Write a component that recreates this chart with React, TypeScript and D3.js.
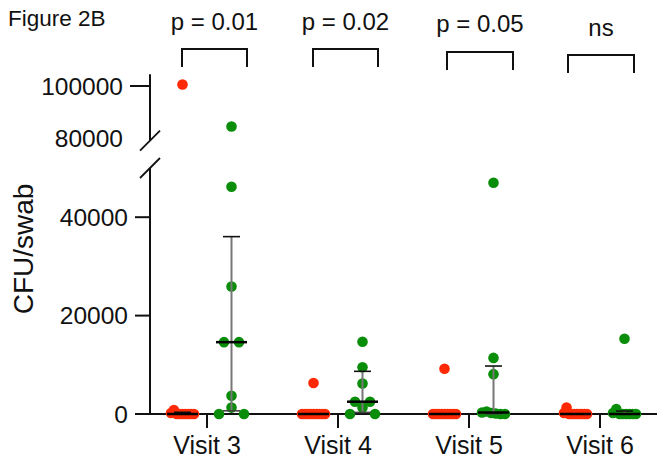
import React from "react";
import * as d3 from "d3";

// Groups along the x axis
const visits = ["Visit 3", "Visit 4", "Visit 5", "Visit 6"];

// CFU per swab, control group (red)
const redVisit3 = [100600, 800, 200, 0, 0, 0, 0, 0, 0, 0];
const redVisit4 = [6300, 0, 0, 0, 0, 0, 0, 0, 0, 0];
const redVisit5 = [9200, 0, 0, 0, 0, 0, 0, 0, 0, 0];
const redVisit6 = [1300, 200, 0, 0, 0, 0, 0, 0, 0, 0];

// CFU per swab, treated group (green)
const greenVisit3 = [84400, 46200, 25900, 14600, 14600, 3700, 1300, 0, 0];
const greenVisit4 = [14700, 9500, 6200, 2500, 2500, 1300, 0, 0];
const greenVisit5 = [47000, 11400, 8100, 500, 300, 200, 100, 0, 0];
const greenVisit6 = [15300, 1000, 200, 0, 0, 0, 0, 0, 0];

const redSeries = [redVisit3, redVisit4, redVisit5, redVisit6];
const greenSeries = [greenVisit3, greenVisit4, greenVisit5, greenVisit6];

// Comparison labels above each visit
const pLabels = ["p = 0.01", "p = 0.02", "p = 0.05", "ns"];

// Axis ticks for the two segments of the broken y axis
const lowerTicks = [0, 20000, 40000];
const upperTicks = [80000, 100000];

const RED = "#ff2a05";
const GREEN = "#0a8e0a";
const FONT = "'Liberation Sans', Arial, Helvetica, sans-serif";

const W = 657;
const H = 460;
const axisX = 150;
const baseY = 414;
const dotR = 5.3;

// Bracket geometry per comparison: left/right offsets from the visit tick, top y
const bracketLayout = [
  { dl: -25, dr: 40, top: 49, textY: 30 },
  { dl: -25, dr: 40, top: 49, textY: 30 },
  { dl: -22, dr: 44, top: 52, textY: 32 },
  { dl: -32, dr: 34, top: 55, textY: 36 },
];

const x = d3.scalePoint<string>().domain(visits).range([207, 600]);
const yLow = d3.scaleLinear().domain([0, 50000]).range([baseY, 168]);
const yHigh = d3.scaleLinear().domain([79000, 104500]).range([140.6, 74.3]);
const yOf = (v: number) => (v > 60000 ? yHigh(v) : yLow(v));

// Quartile using the (n+1)p rule
function quantile(sorted: number[], p: number) {
  const n = sorted.length;
  const pos = (n + 1) * p;
  if (pos <= 1) return sorted[0];
  if (pos >= n) return sorted[n - 1];
  const lo = Math.floor(pos);
  const f = pos - lo;
  return sorted[lo - 1] + f * (sorted[lo] - sorted[lo - 1]);
}

type Pt = { v: number; x: number; y: number };

// Row-based scatter: values in the same 10px band are spread symmetrically
function scatter(values: number[], cx: number): Pt[] {
  const pts = values.map((v) => ({ v, y: yOf(v), x: cx }));
  const rows = d3.group(pts, (p) => Math.floor((baseY - p.y) / 10));
  const out: Pt[] = [];
  rows.forEach((row) => {
    const k = row.length;
    const sorted = [...row].sort((a, b) => b.v - a.v);
    const span = k === 1 ? 0 : Math.min((k - 1) * 15, k > 3 ? 23 : 25);
    const step = k === 1 ? 0 : span / (k - 1);
    // wide rows fill from just left of centre; small rows from the centre out
    const anchor = k > 3 ? -9 : 0;
    const slots = d3
      .range(k)
      .map((i) => -span / 2 + i * step)
      .sort((a, b) => Math.abs(a - anchor) - Math.abs(b - anchor) || a - b);
    sorted.forEach((p, i) => out.push({ v: p.v, y: p.y, x: cx + slots[i] }));
  });
  return out;
}

function Group({ values, cx, color }: { values: number[]; cx: number; color: string }) {
  const pts = scatter(values, cx);
  const sorted = [...values].sort((a, b) => a - b);
  const med = d3.median(sorted) as number;
  const q1 = quantile(sorted, 0.25);
  const q3 = quantile(sorted, 0.75);
  return (
    <g>
      {pts.map((p, i) => (
        <circle key={i} cx={p.x} cy={p.y} r={dotR} fill={color} />
      ))}
      <line x1={cx} x2={cx} y1={yOf(q1)} y2={yOf(q3)} stroke="#777" strokeWidth={2} />
      <line x1={cx - 8.5} x2={cx + 8.5} y1={yOf(q3)} y2={yOf(q3)} stroke="#111" strokeWidth={1.6} />
      <line x1={cx - 8.5} x2={cx + 8.5} y1={yOf(q1)} y2={yOf(q1)} stroke="#444" strokeWidth={1.6} />
      <line x1={cx - 15.5} x2={cx + 15.5} y1={yOf(med)} y2={yOf(med)} stroke="#000" strokeWidth={2.5} />
    </g>
  );
}

export default function App() {
  const lowTop = yLow.range()[1];
  const highBottom = yHigh.range()[0];
  const highTop = yHigh.range()[1];
  return (
    <svg
      width={W}
      height={H}
      style={{ position: "absolute", left: 0, top: 0, background: "#fff" }}
      fontFamily={FONT}
    >
      <rect width={W} height={H} fill="#fff" />

      <text x={8} y={26} fontSize={22.5} fill="#111">
        Figure 2B
      </text>

      {/* significance brackets */}
      {visits.map((v, i) => {
        const c = x(v) as number;
        const b = bracketLayout[i];
        const x1 = c + b.dl;
        const x2 = c + b.dr;
        return (
          <g key={v}>
            <text x={(x1 + x2) / 2} y={b.textY} fontSize={24} textAnchor="middle" fill="#111">
              {pLabels[i]}
            </text>
            <path
              d={`M${x1},${b.top + 18}V${b.top}H${x2}V${b.top + 18}`}
              fill="none"
              stroke="#111"
              strokeWidth={2}
            />
          </g>
        );
      })}

      {/* y axis, lower segment */}
      <line x1={axisX} x2={axisX} y1={baseY} y2={lowTop} stroke="#111" strokeWidth={2} />
      {lowerTicks.map((t) => (
        <g key={t}>
          <line x1={axisX - 15} x2={axisX} y1={yLow(t)} y2={yLow(t)} stroke="#111" strokeWidth={2} />
          <text x={axisX - 22} y={yLow(t)} dy="0.36em" fontSize={24.5} textAnchor="end" fill="#111">
            {t}
          </text>
        </g>
      ))}

      {/* y axis, upper segment */}
      <line x1={axisX} x2={axisX} y1={highBottom} y2={highTop} stroke="#111" strokeWidth={2} />
      {upperTicks.map((t) => (
        <g key={t}>
          {t === 100000 && (
            <line x1={axisX - 20} x2={axisX} y1={yHigh(t)} y2={yHigh(t)} stroke="#111" strokeWidth={2} />
          )}
          <text x={axisX - 27} y={yHigh(t)} dy="0.36em" fontSize={24.5} textAnchor="end" fill="#111">
            {t}
          </text>
        </g>
      ))}

      {/* break marks */}
      {[highBottom, lowTop].map((yy, i) => (
        <line
          key={i}
          x1={axisX - 10}
          x2={axisX + 10}
          y1={yy + 10}
          y2={yy - 10}
          stroke="#111"
          strokeWidth={1.8}
        />
      ))}

      <text
        transform={`translate(33,249) rotate(-90)`}
        fontSize={28}
        textAnchor="middle"
        fill="#111"
      >
        CFU/swab
      </text>

      {/* x axis */}
      <line x1={axisX - 1} x2={W} y1={baseY} y2={baseY} stroke="#111" strokeWidth={2} />
      {visits.map((v) => (
        <g key={v}>
          <line x1={x(v)} x2={x(v)} y1={baseY} y2={baseY + 14} stroke="#111" strokeWidth={2} />
          <text x={x(v)} y={454} fontSize={25} textAnchor="middle" fill="#111">
            {v}
          </text>
        </g>
      ))}

      {visits.map((v, i) => (
        <g key={v}>
          <Group values={redSeries[i]} cx={(x(v) as number) - 24.5} color={RED} />
          <Group values={greenSeries[i]} cx={(x(v) as number) + 24.5} color={GREEN} />
        </g>
      ))}
    </svg>
  );
}
